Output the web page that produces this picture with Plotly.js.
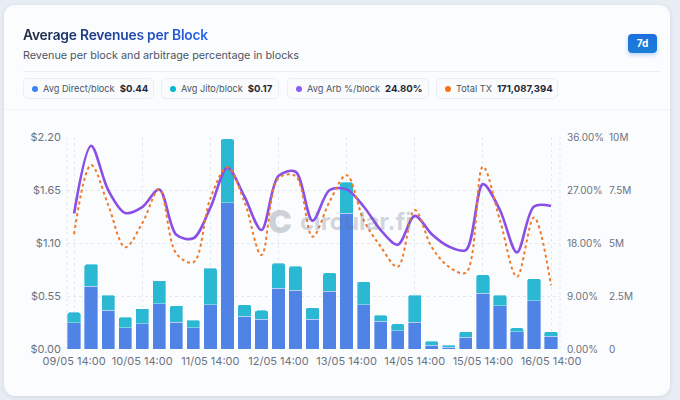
<!DOCTYPE html>
<html>
<head>
<meta charset="utf-8">
<script src="https://cdn.plot.ly/plotly-3.0.1.min.js"></script>
<style>
  html, body { margin:0; padding:0; width:680px; height:400px; overflow:hidden; background:#e8edf4; font-family: Inter, "Noto Sans", sans-serif; }
  .card { position:absolute; left:4px; top:5px; width:666px; height:391px; background:#fbfcfe; border-radius:11px; box-shadow:0 1px 4px rgba(30,50,90,0.12); }
  .title { position:absolute; left:23px; top:27px; font-size:13.8px; font-weight:600; letter-spacing:-0.2px;
    background: linear-gradient(90deg, #1e293b 0px, #1e3a8a 70px, #2563eb 180px); -webkit-background-clip:text; background-clip:text; color:transparent; }
  .subtitle { position:absolute; left:23px; top:49px; font-size:10.8px; color:#4b5563; }
  .divider { position:absolute; left:23px; top:71px; width:638px; height:1px; background:#eceff4; }
  .btn { position:absolute; left:628px; top:34px; width:29px; height:19px; border-radius:4px; background:linear-gradient(180deg,#1d6fe0,#1a7fd6); color:#fff; font-size:10px; font-weight:700; text-align:center; line-height:19px; box-shadow:0 2px 4px rgba(29,111,224,0.3); }
  .pill { position:absolute; top:78px; height:21px; border:1px solid #eaedf2; background:#fafbfd; border-radius:5px; font-size:9.2px; color:#4b5563; line-height:19px; white-space:nowrap; box-sizing:border-box; padding-left:8px; }
  .pill b { color:#1f2937; font-weight:700; margin-left:5px; font-size:9.6px; }
  .dot { display:inline-block; width:6px; height:6px; border-radius:50%; margin-right:5px; vertical-align:0px; }
  .sep2 { position:absolute; left:4px; top:109px; width:666px; height:1px; background:#f1f3f7; }
  #chart { position:absolute; left:0; top:110px; width:680px; height:290px; }
</style>
</head>
<body>
<div class="card"></div>
<div class="title">Average Revenues per Block</div>
<div class="subtitle">Revenue per block and arbitrage percentage in blocks</div>
<div class="divider"></div>
<div class="btn">7d</div>
<div class="pill" style="left:23px;width:131px;"><span class="dot" style="background:#3b82f6"></span>Avg Direct/block<b>$0.44</b></div>
<div class="pill" style="left:161px;width:118px;"><span class="dot" style="background:#06b6d4"></span>Avg Jito/block<b>$0.17</b></div>
<div class="pill" style="left:287px;width:142px;"><span class="dot" style="background:#8b5cf6"></span>Avg Arb %/block<b>24.80%</b></div>
<div class="pill" style="left:436px;width:122px;"><span class="dot" style="background:#f97316"></span>Total TX<b>171,087,394</b></div>
<div class="sep2"></div>
<div id="chart"></div>
<script>
// ---- data ----
const times = [
  "2025-05-09 14:00","2025-05-09 20:00","2025-05-10 02:00","2025-05-10 08:00",
  "2025-05-10 14:00","2025-05-10 20:00","2025-05-11 02:00","2025-05-11 08:00",
  "2025-05-11 14:00","2025-05-11 20:00","2025-05-12 02:00","2025-05-12 08:00",
  "2025-05-12 14:00","2025-05-12 20:00","2025-05-13 02:00","2025-05-13 08:00",
  "2025-05-13 14:00","2025-05-13 20:00","2025-05-14 02:00","2025-05-14 08:00",
  "2025-05-14 14:00","2025-05-14 20:00","2025-05-15 02:00","2025-05-15 08:00",
  "2025-05-15 14:00","2025-05-15 20:00","2025-05-16 02:00","2025-05-16 08:00",
  "2025-05-16 14:00"
];
const directPerBlock = [0.27,0.65,0.40,0.22,0.26,0.47,0.28,0.22,0.46,1.52,0.34,0.31,0.63,0.61,0.31,0.60,1.41,0.46,0.29,0.19,0.28,0.04,0.02,0.12,0.58,0.45,0.18,0.50,0.13];
const jitoPerBlock   = [0.11,0.23,0.16,0.11,0.16,0.24,0.17,0.08,0.38,0.66,0.12,0.09,0.26,0.25,0.12,0.19,0.32,0.24,0.06,0.07,0.28,0.04,0.02,0.06,0.19,0.11,0.04,0.23,0.05];
const arbPct         = [23.0,34.5,27.0,23.1,24.1,27.1,19.4,18.8,24.0,30.8,25.9,20.2,29.4,30.1,21.8,27.0,27.1,24.2,20.2,17.7,22.6,19.5,17.4,16.8,28.0,23.6,16.4,24.2,24.3];
const totalTx        = [5.42e6,8.68e6,6.8e6,4.8e6,5.93e6,7.53e6,4.5e6,4.09e6,7.1e6,8.57e6,6.95e6,4.43e6,8.05e6,8.16e6,5.3e6,6.95e6,8.2e6,6.08e6,4.83e6,3.88e6,6.56e6,4.8e6,3.88e6,3.6e6,8.6e6,6.08e6,3.41e6,6.2e6,3.0e6];
const usdTicks = [0,0.55,1.10,1.65,2.20];
const pctTicks = [0,9,18,27,36];
const pctTickText = ["0.00%","9.00%","18.00%","27.00%","36.00%"];
const txTickVals = [0,2.5e6,5e6,7.5e6,10e6];
const txTickText = ["0","2.5M","5M","7.5M","10M"];

const tickFont = {family:"Inter, sans-serif", size:11, color:"#6b7280"};
const rightFont = {family:"Inter, sans-serif", size:10, color:"#6b7280"};
const gridC = "#e3e7ee";

const traces = [
  {type:"bar", x:times, y:directPerBlock, name:"Direct", yaxis:"y", xaxis:"x",
   marker:{color:"#4f84e6", line:{color:"rgba(255,255,255,0.6)", width:0.6}}, hoverinfo:"skip"},
  {type:"bar", x:times, y:jitoPerBlock, name:"Jito", yaxis:"y", xaxis:"x",
   marker:{color:"#2bb8d2", line:{color:"rgba(255,255,255,0.6)", width:0.6}}, hoverinfo:"skip"},
  {type:"scatter", mode:"lines", x:times, y:totalTx, yaxis:"y3", xaxis:"x",
   line:{color:"#f07a2a", width:2, dash:"3px,3px", shape:"spline", smoothing:1}, hoverinfo:"skip"},
  {type:"scatter", mode:"lines", x:times, y:arbPct, yaxis:"y2", xaxis:"x",
   line:{color:"#8a4fe6", width:2.6, shape:"spline", smoothing:0.9}, hoverinfo:"skip"}
];

const plotL = 67, plotR = 560, W = 680, mr = 40;
const paperW = W - plotL - mr;
const xEnd = (plotR - plotL)/paperW;
const py = v => 1 - (v - 137)/212;   // page y -> paper y
const px = v => (v - plotL)/paperW;   // page x -> paper x

const layout = {
  width:680, height:290,
  margin:{l:plotL, r:mr, t:27, b:51},
  paper_bgcolor:"rgba(0,0,0,0)", plot_bgcolor:"rgba(0,0,0,0)",
  barmode:"stack", bargap:0.22, barcornerradius:2,
  showlegend:false,
  font:{family:"Inter, sans-serif"},
  xaxis:{domain:[0,xEnd], type:"date",
    range:["2025-05-09 11:30","2025-05-16 17:10"],
    tick0:"2025-05-09 14:00", dtick:86400000, tickformat:"%d/%m %H:%M",
    showgrid:true, gridcolor:gridC, griddash:"dot", gridwidth:1,
    showline:false, zeroline:false, ticks:"", tickfont:tickFont, ticklabelstandoff:4},
  yaxis:{range:[0,2.2], tickvals:usdTicks, tickformat:"$.2f",
    showgrid:true, gridcolor:gridC, griddash:"dot", zeroline:false, showline:false,
    tickfont:tickFont, ticks:"", ticklabelstandoff:5},
  yaxis2:{overlaying:"y", side:"right", anchor:"free", position:xEnd, range:[0,36], tickvals:pctTicks,
    ticktext:pctTickText, showgrid:false, zeroline:false, showline:false,
    tickfont:rightFont, ticks:"", ticklabelstandoff:6},
  yaxis3:{overlaying:"y", side:"right", anchor:"free", position:px(605), range:[0,10e6],
    tickvals:txTickVals, ticktext:txTickText, showgrid:false, zeroline:false, showline:false,
    tickfont:rightFont, ticks:"", ticklabelstandoff:3},
  shapes:[
    {type:"line", xref:"x domain", yref:"y domain", x0:0, x1:0, y0:0, y1:1, line:{color:gridC, width:1, dash:"dot"}, layer:"below"},
    {type:"line", xref:"x domain", yref:"y domain", x0:1, x1:1, y0:0, y1:1, line:{color:gridC, width:1, dash:"dot"}, layer:"below"}
  ],
  annotations:[
    {xref:"paper", yref:"paper", x:px(280), y:py(221), xanchor:"center", yanchor:"middle",
     text:"C", showarrow:false, font:{family:"Inter, sans-serif", size:32, color:"rgba(105,115,135,0.33)", weight:900}},
    {xref:"paper", yref:"paper", x:px(298), y:py(221), xanchor:"left", yanchor:"middle",
     text:"circular.fi", showarrow:false, font:{family:"Inter, sans-serif", size:24, color:"rgba(105,115,135,0.30)", weight:700}}
  ]
};

Plotly.newPlot("chart", traces, layout, {displayModeBar:false, staticPlot:true});
</script>
</body>
</html>
